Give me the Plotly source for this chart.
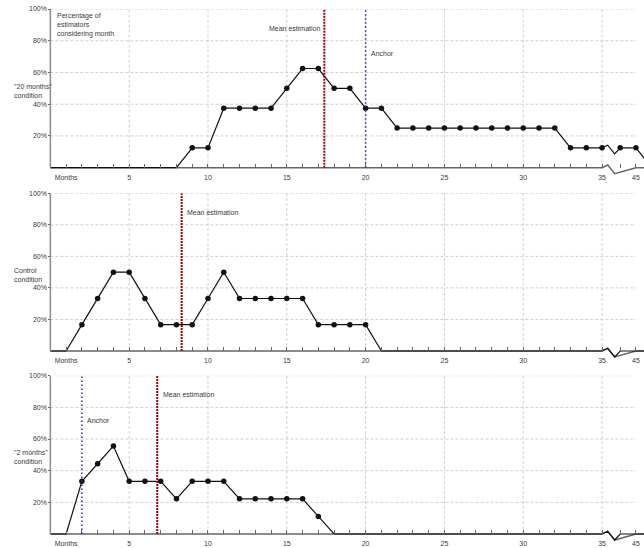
import plotly.graph_objects as go

# ---- data -------------------------------------------------------------
# months on the horizontal axis; the axis is broken between 35 and 44
months = [0, 1, 2, 3, 4, 5, 6, 7, 8, 9, 10, 11, 12, 13, 14, 15, 16, 17, 18, 19,
          20, 21, 22, 23, 24, 25, 26, 27, 28, 29, 30, 31, 32, 33, 34, 35, 44, 45, 46]
# where each month sits on the drawn axis (compressed after the break)
axis_pos = [0, 1, 2, 3, 4, 5, 6, 7, 8, 9, 10, 11, 12, 13, 14, 15, 16, 17, 18, 19,
            20, 21, 22, 23, 24, 25, 26, 27, 28, 29, 30, 31, 32, 33, 34, 35, 36.15, 37.15, 38.15]

# percentage of estimators considering each month
share_20_months = [0, 0, 0, 0, 0, 0, 0, 0, 0, 12.5, 12.5, 37.5, 37.5, 37.5, 37.5, 50, 62.5, 62.5, 50, 50,
                   37.5, 37.5, 25, 25, 25, 25, 25, 25, 25, 25, 25, 25, 25, 12.5, 12.5, 12.5, 12.5, 12.5, 0]
share_control = [0, 0, 16.7, 33.3, 50, 50, 33.3, 16.7, 16.7, 16.7, 33.3, 50, 33.3, 33.3, 33.3, 33.3, 33.3,
                 16.7, 16.7, 16.7, 16.7, 0, 0, 0, 0, 0, 0, 0, 0, 0, 0, 0, 0, 0, 0, 0, 0, 0, 0]
share_2_months = [0, 0, 33.3, 44.4, 55.6, 33.3, 33.3, 33.3, 22.2, 33.3, 33.3, 33.3, 22.2, 22.2, 22.2, 22.2,
                  22.2, 11.1, 0, 0, 0, 0, 0, 0, 0, 0, 0, 0, 0, 0, 0, 0, 0, 0, 0, 0, 0, 0, 0]

mean_estimation = [17.38, 8.33, 6.78]
anchor = [20, None, 2]
condition_labels = ['"20 months"<br>condition', 'Control<br>condition', '"2 months"<br>condition']

x_tick_months = [1, 5, 10, 15, 20, 25, 30, 35, 45]
x_tick_text = ["Months", "5", "10", "15", "20", "25", "30", "35", "45"]
y_tick_vals = [20, 40, 60, 80, 100]
y_tick_text = ["20%", "40%", "60%", "80%", "100%"]

# ---- layout constants -------------------------------------------------
W, H = 644, 548
PX_PER_MONTH = 15.767
ORIGIN_PX = 50.2          # pixel column of month 0
X0 = -0.15
L = ORIGIN_PX + X0 * PX_PER_MONTH
X1 = X0 + (W - L) / PX_PER_MONTH
Y_LOW = -5                # room below zero for the axis-break zigzag
# (pixel row of 100 %, pixel row of 0 %) for each panel
PANEL_PX = [(9, 167.7), (193.3, 351), (375.7, 534)]
BREAK_AFTER = 35          # last month before the break
BREAK_ZIG = [(0.36, 1.7), (0.8, -3.8)]  # zigzag offsets (months, %) after the last pre-break month

FONT = "Arial, Liberation Sans, sans-serif"
TXT = "#3a3a3a"
GRID = "#c4c4c4"
AXIS = "#666666"
MEAN_COL = "#a00000"
ANCHOR_COL = "#2b2b9c"


def px_x(px):
    return (px - L) / (W - L)


def px_y(py):
    return 1 - py / H


def with_break(xs, ys):
    """Insert the zigzag that marks the broken axis between 35 and 44."""
    out_x, out_y = [], []
    for i, (x, y) in enumerate(zip(xs, ys)):
        out_x.append(x)
        out_y.append(y)
        if x == BREAK_AFTER and i + 1 < len(xs):
            for dx, dy in BREAK_ZIG:
                out_x.append(x + dx)
                out_y.append(y + dy)
    return out_x, out_y


series = [share_20_months, share_control, share_2_months]
tick_positions = list(range(1, 36)) + [axis_pos[months.index(44)], axis_pos[months.index(45)]]
tick_labels = []
for p in tick_positions:
    m = months[axis_pos.index(p)]
    tick_labels.append(x_tick_text[x_tick_months.index(m)] if m in x_tick_months else "")

fig = go.Figure()
layout = dict(
    width=W, height=H, margin=dict(l=L, r=0, t=0, b=0),
    paper_bgcolor="white", plot_bgcolor="white", showlegend=False,
    font=dict(family=FONT, size=7, color=TXT),
    shapes=[], annotations=[],
)

for k, vals in enumerate(series):
    top_px, zero_px = PANEL_PX[k]
    px_per_pct = (zero_px - top_px) / 100
    bottom_px = zero_px - Y_LOW * px_per_pct
    sfx = "" if k == 0 else str(k + 1)
    xa, ya = "x" + sfx, "y" + sfx

    layout["xaxis" + sfx] = dict(
        domain=[0, 1], range=[X0, X1], anchor="free", position=px_y(zero_px),
        tickmode="array", tickvals=tick_positions, ticktext=tick_labels,
        ticks="inside", ticklen=4, tickwidth=1, tickcolor=AXIS, ticklabelstandoff=4,
        showline=False, showgrid=False, zeroline=False, automargin=False,
        tickfont=dict(family=FONT, size=7, color=TXT),
    )
    layout["yaxis" + sfx] = dict(
        domain=[px_y(bottom_px), px_y(top_px)], range=[Y_LOW, 100],
        anchor="free", position=px_x(ORIGIN_PX),
        tickmode="array", tickvals=y_tick_vals, ticktext=y_tick_text,
        ticks="outside", ticklen=2, tickwidth=1, tickcolor=AXIS, ticklabelstandoff=0,
        showline=False, showgrid=False, zeroline=False, automargin=False,
        tickfont=dict(family=FONT, size=7, color=TXT),
    )

    # dashed grid
    for gv in y_tick_vals:
        layout["shapes"].append(dict(type="line", xref=xa, yref=ya, x0=0, x1=axis_pos[months.index(45)],
                                     y0=gv, y1=gv, layer="below",
                                     line=dict(color=GRID, width=0.8, dash="3px,2px")))
    for gm in x_tick_months[1:-1]:
        layout["shapes"].append(dict(type="line", xref=xa, yref=ya, x0=gm, x1=gm, y0=0, y1=100,
                                     layer="below", line=dict(color=GRID, width=0.8, dash="3px,2px")))
    # vertical axis
    layout["shapes"].append(dict(type="line", xref=xa, yref=ya, x0=0, x1=0, y0=0, y1=100,
                                 line=dict(color="#8a8a8a", width=1.5)))

    # horizontal axis with break
    ax_x, ax_y = with_break([0, BREAK_AFTER, axis_pos[-2], axis_pos[-1]], [0, 0, 0, 0])
    fig.add_trace(go.Scatter(x=ax_x, y=ax_y, xaxis=xa, yaxis=ya, mode="lines",
                             line=dict(color=AXIS, width=1.5), hoverinfo="skip"))

    # mean estimation & anchor
    layout["shapes"].append(dict(type="line", xref=xa, yref=ya, x0=mean_estimation[k], x1=mean_estimation[k],
                                 y0=0, y1=100, line=dict(color=MEAN_COL, width=2, dash="2px,1px")))
    if k == 0:
        layout["annotations"].append(dict(xref=xa, yref=ya, x=mean_estimation[k], y=88, xshift=-2,
                                          xanchor="right", yanchor="middle", showarrow=False,
                                          text="Mean estimation"))
    else:
        layout["annotations"].append(dict(xref=xa, yref=ya, x=mean_estimation[k], y=88, xshift=3.5,
                                          xanchor="left", yanchor="middle", showarrow=False,
                                          text="Mean estimation"))
    if anchor[k] is not None:
        layout["shapes"].append(dict(type="line", xref=xa, yref=ya, x0=anchor[k], x1=anchor[k],
                                     y0=0, y1=100, line=dict(color=ANCHOR_COL, width=1.5, dash="1.5px,2.5px")))
        layout["annotations"].append(dict(xref=xa, yref=ya, x=anchor[k], y=72, xshift=3.5,
                                          xanchor="left", yanchor="middle", showarrow=False,
                                          text="Anchor"))

    # the series
    lx, ly = with_break(axis_pos, vals)
    fig.add_trace(go.Scatter(x=lx, y=ly, xaxis=xa, yaxis=ya, mode="lines",
                             line=dict(color="#111111", width=1.2)))
    mx = [p for p, v in zip(axis_pos, vals) if v > 0]
    my = [v for v in vals if v > 0]
    fig.add_trace(go.Scatter(x=mx, y=my, xaxis=xa, yaxis=ya, mode="markers",
                             marker=dict(color="#111111", size=5.5)))

    # condition label on the left
    layout["annotations"].append(dict(xref="paper", yref="paper", x=px_x(12), y=px_y(top_px + 0.515 * (zero_px - top_px)),
                                      xanchor="left", yanchor="middle", align="left", showarrow=False,
                                      text=condition_labels[k]))

layout["annotations"].append(dict(xref="paper", yref="paper", x=px_x(55), y=px_y(10),
                                  xanchor="left", yanchor="top", align="left", showarrow=False,
                                  text="Percentage of<br>estimators<br>considering month"))

fig.update_layout(**layout)
fig.write_html("out.html")
